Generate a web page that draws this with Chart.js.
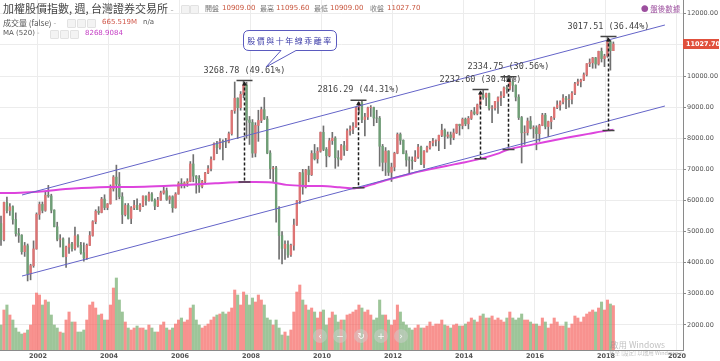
<!DOCTYPE html>
<html>
<head>
<meta charset="utf-8">
<script src="https://cdn.jsdelivr.net/npm/chart.js/dist/chart.umd.min.js"></script>
<style>
  html, body { margin: 0; padding: 0; background: #fff; }
  #wrap { position: relative; width: 720px; height: 361px; overflow: hidden; font-family: "DejaVu Sans", "Noto Sans CJK TC", sans-serif; }
  #c { position: absolute; left: 0; top: 0; }
  .t { position: absolute; white-space: nowrap; line-height: 1; }
  .cjk { font-family: "Noto Sans CJK TC", sans-serif; }
  .ic { position: absolute; width: 7px; height: 7px; border: 1px solid #e2e2e2; border-radius: 1px; background: #f3f3f3; }
  .nav { position: absolute; width: 14px; height: 14px; border-radius: 7px; background: rgba(205,205,205,.5); color: rgba(255,255,255,.95); font-size: 9px; line-height: 14px; text-align: center; }
</style>
</head>
<body>
<div id="wrap">
  <canvas id="c" width="720" height="361"></canvas>

  <!-- header / legend -->
  <div class="t cjk" style="left:3px;top:3px;font-size:11px;color:#444;">加權股價指數, 週, 台灣證券交易所 <span style="color:#aaa;font-size:9px;">-</span></div>
  <div class="ic" style="left:181px;top:5px;"></div>
  <div class="ic" style="left:190px;top:5px;"></div>
  <div class="t cjk" style="left:205px;top:5px;font-size:7px;color:#777;">開盤</div>
  <div class="t" style="left:222px;top:5px;font-size:7px;color:#c9573f;">10909.00</div>
  <div class="t cjk" style="left:260px;top:5px;font-size:7px;color:#777;">最高</div>
  <div class="t" style="left:276px;top:5px;font-size:7px;color:#c9573f;">11095.60</div>
  <div class="t cjk" style="left:314px;top:5px;font-size:7px;color:#777;">最低</div>
  <div class="t" style="left:330px;top:5px;font-size:7px;color:#c9573f;">10909.00</div>
  <div class="t cjk" style="left:370px;top:5px;font-size:7px;color:#777;">收盤</div>
  <div class="t" style="left:387px;top:5px;font-size:7px;color:#c9573f;">11027.70</div>

  <div class="t cjk" style="left:3px;top:19px;font-size:8px;color:#555;">成交量 (false) <span style="color:#aaa;">-</span></div>
  <div class="ic" style="left:67px;top:19px;"></div>
  <div class="ic" style="left:77px;top:19px;"></div>
  <div class="ic" style="left:87px;top:19px;"></div>
  <div class="t" style="left:102px;top:19px;font-size:7px;color:#d0574a;">665.519M</div>
  <div class="t" style="left:143px;top:19px;font-size:7px;color:#555;">n/a</div>

  <div class="t" style="left:3px;top:30px;font-size:7px;color:#555;">MA (520) <span style="color:#aaa;">-</span></div>
  <div class="ic" style="left:50px;top:30px;"></div>
  <div class="ic" style="left:60px;top:30px;"></div>
  <div class="ic" style="left:70px;top:30px;"></div>
  <div class="t" style="left:85px;top:30px;font-size:7px;color:#c43ec4;">8268.9084</div>

  <div class="t cjk" style="left:641px;top:5px;font-size:7.5px;color:#9c4f9e;">● 盤後數據</div>

  <!-- callout -->
  <svg style="position:absolute;left:0;top:0;" width="720" height="361">
    <path d="M249,30.5 H331 Q336.5,30.5 336.5,36 V45 Q336.5,50.5 331,50.5 H296 L266,67 L281,50.5 H249 Q243.5,50.5 243.5,45 V36 Q243.5,30.5 249,30.5 Z"
          fill="#fff" stroke="#5a5abf" stroke-width="1"/>
    <text x="290" y="43.5" text-anchor="middle" font-family="Noto Sans CJK TC" font-size="8" fill="#3c3ca8" letter-spacing="1.5">股價與十年線乖離率</text>
  </svg>

  <!-- navigation buttons -->
  <div class="nav" style="left:313px;top:329px;">‹</div>
  <div class="nav" style="left:333px;top:329px;">−</div>
  <div class="nav" style="left:354px;top:329px;">↻</div>
  <div class="nav" style="left:374px;top:329px;">+</div>
  <div class="nav" style="left:394px;top:329px;">›</div>

  <!-- watermark -->
  <div class="t cjk" style="left:610px;top:340px;font-size:8.5px;color:rgba(140,140,140,.55);">啟用 Windows</div>
  <div class="t cjk" style="left:609px;top:351px;font-size:5.5px;color:rgba(140,140,140,.55);">移至 [設定] 以啟用 Windows。</div>
</div>

<script>
// monthly candles, Dec 2000 .. Mar 2018
const firstYear = 2000;
const firstMonth = 12;

const opens = [
  5256,
  4739,5936,5674,5797,5391,4935,4883,4352,4544,3636,3903,4441,
  5551,5872,5679,6167,6144,5687,5153,4750,4764,4191,4500,4600,
  4452,4860,4556,4321,4148,4555,4872,5318,5650,5611,6045,5771,
  5890,6375,6750,6522,6118,5546,5839,5420,5765,5845,5705,5844,
  6139,5994,6207,6005,5818,6011,6241,6311,6033,6118,5764,6203,
  6548,6532,6561,6613,7172,6781,6704,6449,6611,6884,7021,7321,
  7823,7700,7901,7884,7875,8144,8883,9287,8982,9411,9711,8586,
  8506,7521,8412,8572,8919,8619,7523,7024,7046,5719,4870,4460,
  4591,4248,4557,5210,5992,6890,6432,6979,6826,7509,7340,7582,
  8188,7640,7436,7920,8004,7374,7329,7760,7616,8237,8287,8372,
  8972,9145,8600,8683,8980,8988,8652,8644,7741,7225,7587,6904,
  7072,7517,8121,7933,7501,7301,7296,7270,7397,7715,7166,7580,
  7699,7850,7907,7918,8094,8254,8062,8107,8021,8173,8450,8406,
  8611,8462,8639,8849,8791,9075,9393,9315,9436,8966,8974,9187,
  9307,9361,9622,9586,9820,9701,9323,8665,8174,8181,8554,8320,
  8338,8145,8411,8744,8377,8535,8666,8984,9068,9166,9290,9240,
  9253,9447,9750,9811,9872,10040,10395,10427,10585,10384,10793,10560,
  10642,11103,10815
];
const highs = [
  5500,
  5950,6104,5900,5830,5600,5100,4900,4650,4600,3950,4700,5600,
  5950,5950,6280,6484,6200,5700,5300,4900,4800,4530,4800,4650,
  5140,4900,4650,4640,4600,5000,5350,5700,5800,6100,6182,5900,
  6500,6800,7135,6900,6250,5900,5900,5800,6000,6050,5900,6150,
  6150,6270,6250,6050,6100,6300,6480,6400,6150,6150,6250,6600,
  6700,6600,6700,7250,7474,6800,6800,6650,6900,7120,7400,7850,
  7900,7990,7950,8000,8200,8900,9807,9300,9500,9859,9800,8700,
  8600,8500,8900,9000,9309,8700,7600,7100,7100,5800,5000,4700,
  4700,4600,5400,6000,6900,7000,7000,7100,7600,7800,7700,8200,
  8395,7700,8000,8190,8050,7600,7800,7900,8300,8400,8500,9000,
  9160,9220,8800,9000,9050,9000,8900,8700,7800,7700,7600,7200,
  7550,8170,8170,7950,7600,7400,7400,7600,7800,7750,7600,7750,
  7900,8000,7950,8100,8450,8300,8200,8200,8300,8450,8450,8650,
  8650,8700,8900,8990,9100,9400,9569,9450,9450,9050,9100,9330,
  9500,9650,9700,9973,9870,9720,9400,8700,8400,8650,8700,8400,
  8400,8450,8800,8800,8550,8700,9000,9200,9200,9400,9350,9400,
  9500,9800,9900,9900,10100,10400,10550,10600,10600,10800,10900,10700,
  11270,11150,11095.6
];
const lows = [
  4555,
  4700,5600,5520,5240,4850,4650,4270,4200,3411,3446,3850,4430,
  5390,5600,5650,6100,5600,5150,4700,4500,4180,3845,4300,4370,
  4400,4500,4270,4044,4100,4550,4850,5250,5550,5600,5700,5700,
  5880,6300,6020,6050,5255,5500,5400,5256,5700,5700,5650,5800,
  5850,5980,5980,5700,5800,6000,6200,6000,5900,5618,5750,6200,
  6400,6400,6450,6600,6600,6232,6257,6400,6550,6860,6950,7300,
  7500,7650,7306,7700,7850,8100,8800,7987,8900,9300,8000,7800,
  7384,7400,7900,8500,8600,7500,6700,6600,5300,4110,3955,4100,
  4164,4200,4400,5200,5900,6200,6400,6600,6800,7300,7200,7550,
  7600,7080,7400,7800,7032,7100,7300,7450,7600,8100,8150,8350,
  8800,8500,8070,8600,8700,8400,8500,7100,6950,6800,6800,6609,
  6950,7500,7800,7500,7100,6857,7000,7250,7350,7150,7050,7550,
  7650,7750,7750,7600,8050,7663,8000,7800,7950,8150,8100,8300,
  8400,8300,8600,8750,8750,9000,9250,9050,8900,8500,8900,8800,
  9050,9300,9450,9550,9500,9200,8600,7203,7800,8100,8300,8000,
  7627,7900,8400,8300,8050,8300,8600,8950,8900,9100,8950,9000,
  9100,9400,9700,9650,9850,10000,10300,10250,10250,10350,10450,10300,
  10600,10189,10815
];
const closes = [
  4739,
  5936,5674,5797,5391,4935,4883,4352,4544,3636,3903,4441,5551,
  5872,5679,6167,6144,5687,5153,4750,4764,4191,4500,4600,4452,
  4860,4556,4321,4148,4555,4872,5318,5650,5611,6045,5771,5890,
  6375,6750,6522,6118,5546,5839,5420,5765,5845,5705,5844,6139,
  5994,6207,6005,5818,6011,6241,6311,6033,6118,5764,6203,6548,
  6532,6561,6613,7172,6781,6704,6449,6611,6884,7021,7321,7823,
  7700,7901,7884,7875,8144,8883,9287,8982,9411,9711,8586,8506,
  7521,8412,8572,8919,8619,7523,7024,7046,5719,4870,4460,4591,
  4248,4557,5210,5992,6890,6432,6979,6826,7509,7340,7582,8188,
  7640,7436,7920,8004,7374,7329,7760,7616,8237,8287,8372,8972,
  9145,8600,8683,8980,8988,8652,8644,7741,7225,7587,6904,7072,
  7517,8121,7933,7501,7301,7296,7270,7397,7715,7166,7580,7699,
  7850,7907,7918,8094,8254,8062,8107,8021,8173,8450,8406,8611,
  8462,8639,8849,8791,9075,9393,9315,9436,8966,8974,9187,9307,
  9361,9622,9586,9820,9701,9323,8665,8174,8181,8554,8320,8338,
  8145,8411,8744,8377,8535,8666,8984,9068,9166,9290,9240,9253,
  9447,9750,9811,9872,10040,10395,10427,10585,10384,10793,10560,10642,
  11103,10815,11027.7
];
// volume, M (weekly scale)
const volumes = [
  375,
  600,675,525,450,330,270,240,255,300,375,675,855,
  825,675,750,720,525,375,330,270,255,450,570,420,
  420,270,270,300,450,675,720,630,525,540,450,450,
  675,930,1080,750,570,420,330,300,330,360,330,330,
  300,375,330,270,270,375,420,330,300,330,390,450,
  480,420,450,630,675,450,375,330,360,390,450,495,
  525,540,570,540,570,630,900,825,675,870,825,675,
  780,720,825,750,675,480,450,375,450,330,225,270,
  210,300,570,870,975,750,675,600,630,570,480,570,
  600,375,480,570,525,420,450,450,525,540,570,600,
  675,630,570,600,525,450,480,750,525,525,450,375,
  450,675,570,420,375,330,300,330,375,330,330,360,
  420,360,390,390,450,375,360,330,375,390,360,360,
  390,420,480,450,420,510,540,480,480,510,450,480,
  450,420,480,570,480,450,480,540,450,450,420,390,
  390,360,480,420,330,390,480,420,360,360,420,330,
  390,510,480,420,495,540,570,600,570,630,720,600,
  750,690,665.519
];

// 520-week moving average
const maYears  = [2000.93, 2001.5, 2002.0, 2003.0, 2004.0, 2005.0, 2006.0, 2007.0, 2007.8, 2008.6, 2009.0, 2009.5, 2010.0, 2010.5, 2010.9, 2011.0, 2011.2, 2011.5, 2011.9, 2012.5, 2013.0, 2013.5, 2014.0, 2014.45, 2015.0, 2015.24, 2016.0, 2016.5, 2017.0, 2017.5, 2018.06, 2018.21];
const maValues = [6240, 6250, 6280, 6380, 6430, 6440, 6490, 6550, 6590, 6580, 6500, 6465, 6460, 6420, 6385, 6400, 6440, 6545, 6680, 6860, 6990, 7110, 7220, 7336, 7520, 7638, 7810, 7930, 8040, 8140, 8252, 8269];

// trend channel
const channelYears = [2001.55, 2019.66];
const upperLine = [6174, 11640];
const lowerLine = [3569, 9035];

// deviation from the 10-year line at the peaks
const peakYears  = [2007.80, 2011.02, 2014.45, 2015.24, 2018.06];
const peakHighs  = [9859, 9220, 9569, 9973, 11270];
const peakMas    = [6590, 6404, 7336, 7638, 8252];
const peakLabels = ['3268.78 (49.61%)', '2816.29 (44.31%)', '2232.60 (30.46%)', '2334.75 (30.56%)', '3017.51 (36.44%)'];

const lastClose = 11027.70;
const xTicks = [2002, 2004, 2006, 2008, 2010, 2012, 2014, 2016, 2018, 2020];
const yTicks = [2000, 3000, 4000, 5000, 6000, 7000, 8000, 9000, 10000, 11000, 12000];

const upColor = '#de7474';
const downColor = '#6f9f76';
const volUp = 'rgba(245, 95, 90, 0.68)';
const volDown = 'rgba(110, 170, 105, 0.68)';

const monthX = opens.map((o, i) => firstYear + (firstMonth - 1 + i + 0.5) / 12);
const isUp = closes.map((c, i) => c >= opens[i]);

Chart.defaults.font.family = '"DejaVu Sans", sans-serif';

const overlay = {
  id: 'overlay',
  afterDraw(chart) {
    const { ctx, scales: { x, y } } = chart;
    ctx.save();
    peakYears.forEach((yr, i) => {
      const px = Math.round(x.getPixelForValue(yr)) + 0.5;
      const top = y.getPixelForValue(peakHighs[i]);
      const bot = y.getPixelForValue(peakMas[i]);
      ctx.strokeStyle = '#1e1e1e';
      ctx.lineWidth = 1.5;
      ctx.setLineDash([3, 2]);
      ctx.beginPath();
      ctx.moveTo(px, top + 2);
      ctx.lineTo(px, bot);
      ctx.stroke();
      ctx.setLineDash([]);
      ctx.strokeStyle = '#444';
      ctx.beginPath();
      ctx.moveTo(px - 8, top);
      ctx.lineTo(px + 8, top);
      ctx.moveTo(px - 6, bot);
      ctx.lineTo(px + 6, bot);
      ctx.stroke();
      // small arrow heads
      ctx.fillStyle = '#1e1e1e';
      ctx.beginPath();
      ctx.moveTo(px, top + 1); ctx.lineTo(px - 2.5, top + 5); ctx.lineTo(px + 2.5, top + 5);
      ctx.closePath(); ctx.fill();
      ctx.font = '8.5px "DejaVu Sans Mono", monospace';
      ctx.fillStyle = '#444';
      ctx.textAlign = 'center';
      ctx.textBaseline = 'middle';
      ctx.fillText(peakLabels[i], px, top - 10);
    });

    // last price tag on the axis
    const ly = Math.round(y.getPixelForValue(lastClose));
    ctx.fillStyle = '#e0503c';
    ctx.fillRect(y.left, ly - 5, 36, 10);
    ctx.fillStyle = '#fff';
    ctx.font = 'bold 6.5px "DejaVu Sans"';
    ctx.textAlign = 'left';
    ctx.textBaseline = 'middle';
    ctx.fillText(lastClose.toFixed(2), y.left + 3, ly + 0.5);
    ctx.restore();
  }
};

new Chart(document.getElementById('c'), {
  type: 'bar',
  data: {
    datasets: [
      {
        type: 'line',
        label: 'upper',
        data: channelYears.map((v, i) => ({ x: v, y: upperLine[i] })),
        borderColor: '#6464c8',
        borderWidth: 1,
        pointRadius: 0,
        order: 1
      },
      {
        type: 'line',
        label: 'lower',
        data: channelYears.map((v, i) => ({ x: v, y: lowerLine[i] })),
        borderColor: '#6464c8',
        borderWidth: 1,
        pointRadius: 0,
        order: 1
      },
      {
        type: 'line',
        label: 'MA (520)',
        data: maYears.map((v, i) => ({ x: v, y: maValues[i] })),
        borderColor: '#dd44dd',
        borderWidth: 2,
        pointRadius: 0,
        tension: 0.3,
        order: 2
      },
      {
        label: 'wick',
        data: monthX.map((v, i) => ({ x: v, y: [lows[i], highs[i]] })),
        backgroundColor: '#707070',
        barThickness: 1,
        grouped: false,
        order: 4
      },
      {
        label: 'body',
        data: monthX.map((v, i) => ({ x: v, y: [opens[i], closes[i]] })),
        backgroundColor: isUp.map(u => u ? upColor : downColor),
        barThickness: 1.7,
        grouped: false,
        order: 3
      },
      {
        label: 'volume',
        yAxisID: 'vol',
        data: monthX.map((v, i) => ({ x: v, y: volumes[i] })),
        backgroundColor: isUp.map(u => u ? volUp : volDown),
        barThickness: 2.4,
        grouped: false,
        order: 10
      }
    ]
  },
  options: {
    responsive: false,
    animation: false,
    layout: { padding: 0 },
    plugins: { legend: { display: false }, tooltip: { enabled: false } },
    scales: {
      x: {
        type: 'linear',
        min: 2000.93,
        max: 2020.17,
        offset: false,
        grid: { offset: false, color: '#ececec', drawTicks: false },
        border: { color: '#8a8a8a' },
        ticks: { font: { size: 6.5, weight: 'bold' }, color: '#555', padding: 2, maxRotation: 0, callback: v => String(v) },
        afterBuildTicks: s => { s.ticks = xTicks.map(v => ({ value: v })); },
        afterFit: s => { s.height = 11; s.paddingLeft = 0; s.paddingRight = 0; }
      },
      y: {
        type: 'linear',
        position: 'right',
        min: 1191,
        max: 12444,
        beginAtZero: false,
        grid: { color: '#ececec', tickColor: '#888', tickLength: 3 },
        border: { color: '#8a8a8a' },
        ticks: { font: { size: 6.5 }, color: '#555', padding: 1, callback: v => v.toFixed(2) },
        afterBuildTicks: s => { s.ticks = yTicks.map(v => ({ value: v })); },
        afterFit: s => { s.width = 37; s.paddingTop = 0; s.paddingBottom = 0; }
      },
      vol: {
        type: 'linear',
        display: false,
        min: 0,
        max: 5250
      }
    }
  },
  plugins: [overlay]
});
</script>
</body>
</html>
